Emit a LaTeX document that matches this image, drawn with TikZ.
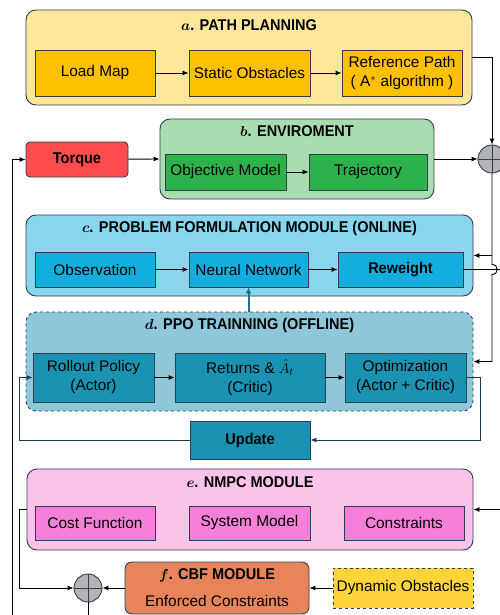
\documentclass[tikz,border=0pt]{standalone}
\usepackage{fontspec}
\setmainfont{Liberation Sans}
\newfontfamily\condf[FakeStretch=0.93]{Liberation Sans}
\usetikzlibrary{arrows.meta}
\definecolor{bd}{HTML}{2E3D4F}
\definecolor{aout}{HTML}{FFE699}
\definecolor{ain}{HTML}{FFC000}
\definecolor{bout}{HTML}{A9DDB0}
\definecolor{bin}{HTML}{2DB24B}
\definecolor{torq}{HTML}{FF4D4D}
\definecolor{cout}{HTML}{88D6EE}
\definecolor{cin}{HTML}{12AEDD}
\definecolor{dout}{HTML}{8DC7D9}
\definecolor{din}{HTML}{1A93B3}
\definecolor{eout}{HTML}{FBC3EA}
\definecolor{ein}{HTML}{F580D8}
\definecolor{fcol}{HTML}{E8845A}
\definecolor{dyn}{HTML}{FFD43B}
\definecolor{sumc}{HTML}{B4B4B4}
\definecolor{tealarr}{HTML}{1F6E8C}
\definecolor{loopc}{HTML}{1E3A56}
\newcommand{\fs}{\fontsize{15.4}{19}\selectfont}
\newcommand{\ft}{\condf\fontsize{15.6}{19}\selectfont\bfseries}
\begin{document}
\begin{tikzpicture}[x=1pt,y=-1pt,
  mod/.style={draw=bd, line width=0.9pt, rounded corners=10pt, inner sep=0pt},
  blk/.style={draw=bd, line width=0.9pt, inner sep=0pt, align=center, font=\fs},
  ttl/.style={font=\ft, inner sep=0pt},
  arr/.style={-{Latex[length=6pt,width=5pt]}, line width=0.9pt, draw=black},
  ln/.style={line width=0.9pt, draw=black},
  sumj/.style={circle, draw=bd, line width=0.9pt, fill=sumc, minimum size=28pt, inner sep=0pt}]
\useasboundingbox (0,0) rectangle (500,615);
% a
\node[mod, fill=aout, minimum width=446pt, minimum height=95pt] (a) at (249,57.5) {};
\node[ttl] (at) at (249,25) {{\boldmath$a$}. PATH PLANNING};
\node[blk, fill=ain, minimum width=120pt, minimum height=46pt] (lm) at (95,73) {Load Map};
\node[blk, fill=ain, minimum width=121pt, minimum height=46pt] (so) at (249.5,73) {Static Obstacles};
\node[blk, fill=ain, minimum width=120pt, minimum height=46pt] (rp) at (402,73) {Reference Path\\( $\mathrm{A}^{*}$ algorithm )};
% torque
\node[blk, fill=torq, rounded corners=4pt, minimum width=102pt, minimum height=35pt, font=\ft] (tq) at (77,159.5) {Torque};
% b
\node[mod, fill=bout, minimum width=274pt, minimum height=80pt] (b) at (297,159) {};
\node[ttl] (bt) at (297,131) {{\boldmath$b$}. ENVIROMENT};
\node[blk, fill=bin, minimum width=121pt, minimum height=36pt] (om) at (225.5,172) {Objective Model};
\node[blk, fill=bin, minimum width=118pt, minimum height=36pt] (tr) at (368,172) {Trajectory};
% c
\node[mod, fill=cout, minimum width=447pt, minimum height=81pt] (c) at (249.5,255.5) {};
\node[ttl] (ct) at (249.5,228) {{\boldmath$c$}. PROBLEM FORMULATION MODULE (ONLINE)};
\node[blk, fill=cin, minimum width=120pt, minimum height=35pt] (ob) at (95,269.5) {Observation};
\node[blk, fill=cin, minimum width=119pt, minimum height=35pt] (nn) at (248.5,269.5) {Neural Network};
\node[blk, fill=cin, minimum width=125pt, minimum height=35pt, font=\ft] (rw) at (400.5,269.5) {Reweight};
% d
\node[mod, fill=dout, dashed, minimum width=447pt, minimum height=99pt] (d) at (249.5,361.5) {};
\node[ttl] (dt) at (249.5,325) {{\boldmath$d$}. PPO TRAINNING (OFFLINE)};
\node[blk, fill=din, minimum width=121pt, minimum height=49pt] (ro) at (93.5,377.5) {Rollout Policy\\(Actor)};
\node[blk, fill=din, minimum width=150pt, minimum height=49pt] (rt) at (250,377.5) {Returns \& $\hat{A}_{t}$\\(Critic)};
\node[blk, fill=din, minimum width=121pt, minimum height=49pt] (op) at (405.5,377.5) {Optimization\\(Actor + Critic)};
\node[blk, fill=din, minimum width=120pt, minimum height=38pt, font=\ft] (up) at (250,440) {Update};
% e
\node[mod, fill=eout, minimum width=446pt, minimum height=81pt] (e) at (250,509.5) {};
\node[ttl] (et) at (250,482) {{\boldmath$e$}. NMPC MODULE};
\node[blk, fill=ein, minimum width=120pt, minimum height=34pt] (cf) at (95,523) {Cost Function};
\node[blk, fill=ein, minimum width=121pt, minimum height=34pt] (sm) at (249.5,523) {System Model};
\node[blk, fill=ein, minimum width=120pt, minimum height=34pt] (cs) at (404,523) {Constraints};
% f
\node[mod, fill=fcol, rounded corners=7pt, minimum width=184pt, minimum height=52pt] (f) at (217,588) {};
\node[ttl] (ft) at (217,575) {{\boldmath$f$}. CBF MODULE};
\node[font=\fs, inner sep=0pt] (fx) at (217,601) {Enforced Constraints};
\node[blk, fill=dyn, dashed, minimum width=140pt, minimum height=40pt] (dy) at (403,588) {Dynamic Obstacles};
% sums
\node[sumj] (s1) at (492,159) {};
\draw[bd, line width=0.9pt] (s1.north) -- (s1.south) (s1.west) -- (s1.east);
\node[sumj] (s2) at (88,588) {};
\draw[bd, line width=0.9pt] (s2.north) -- (s2.south) (s2.west) -- (s2.east);
% coordinates
\coordinate (rwend) at (500,269.5);
\coordinate (eright) at (500,509.5);
\coordinate (s2end) at (88,615);
\coordinate (lbot) at (12,615);
% connectors
\draw[arr] (lm) -- (so);
\draw[arr] (so) -- (rp);
\draw[arr] (a.east) -| (s1.north);
\draw[arr] (tq) -- (b.west);
\draw[arr] (om) -- (tr);
\draw[arr] (b.east) -- (s1.west);
\draw[arr] (s1.south) -- (492,264.5) .. controls (499,264.5) and (499,274.5) .. (492,274.5) |- (d.east);
\draw[arr] (s1.south |- c.east) -- (c.east);
\draw[ln] (rw.east) -- (rwend);
\draw[arr] (ob) -- (nn);
\draw[arr] (nn) -- (rw);
\draw[draw=tealarr, line width=2pt, -{Latex[length=6pt,width=6pt]}] (d.north -| nn.south) -- (nn.south);
\draw[arr] (ro) -- (rt);
\draw[arr] (rt) -- (op);
\draw[arr, draw=loopc] (op.east) -- (480,377.5) |- (up.east);
\draw[arr, draw=loopc] (up.west) -- (19,440) |- (ro.west);
\draw[arr] (eright) -- (e.east);
\draw[arr] (e.west) -- (19,509.5) |- (s2.west);
\draw[arr] (f.west) -- (s2.east);
\draw[arr] (dy.west) -- (f.east);
\draw[ln] (s2.south) -- (s2end);
\draw[arr] (lbot) |- (tq.west);
\end{tikzpicture}
\end{document}
